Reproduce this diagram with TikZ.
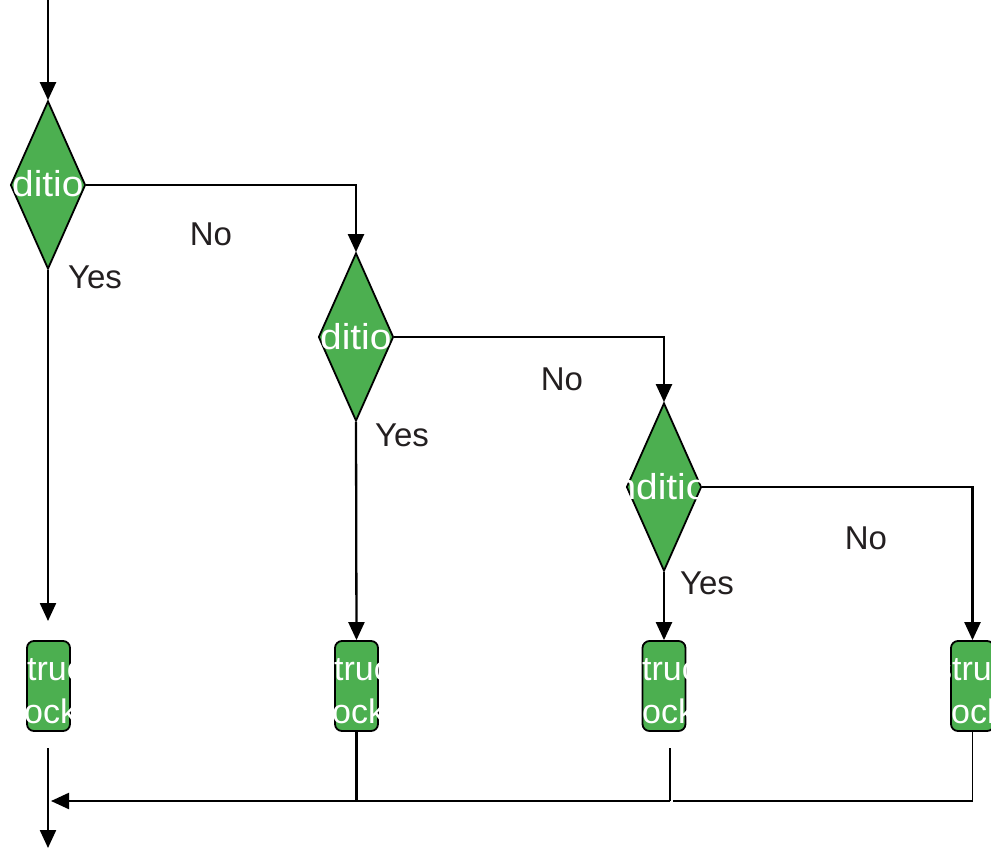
\documentclass[tikz,border=0pt]{standalone}
\usepackage{fontspec}
\usepackage{graphicx}
\setmainfont{Liberation Sans}
\usetikzlibrary{shapes.geometric,arrows.meta}
\definecolor{boxgreen}{RGB}{76,175,80}
\definecolor{labelgray}{RGB}{35,31,32}
\begin{document}
\begin{tikzpicture}[x=1pt,y=-1pt,
  flow/.style={line width=2.3pt, -{Triangle[length=18pt,width=16pt]}},
  plainline/.style={line width=2.3pt},
  thinline/.style={line width=1.5pt},
  decision/.style={diamond, draw=black, line width=1.8pt, fill=boxgreen,
    minimum width=75pt, minimum height=168pt, inner sep=0pt},
  block/.style={rectangle, rounded corners=7pt, draw=black, line width=1.8pt,
    fill=boxgreen, minimum width=43pt, minimum height=90pt, inner sep=0pt},
  lbl/.style={text=labelgray, font=\fontsize{33}{38}\selectfont, inner sep=0pt, anchor=base},
  condtext/.style={text=white, font=\fontsize{36}{42}\selectfont, inner sep=0pt, anchor=base west},
  blocktext/.style={text=white, font=\fontsize{34}{40}\selectfont, inner sep=0pt, anchor=base west},
]
\useasboundingbox (0,0) rectangle (991,849);

% decisions and instruction blocks
\node[decision] (d1) at (48,185) {};
\node[decision] (d2) at (356,337) {};
\node[decision] (d3) at (664,487) {};
\node[block] (b1) at (48.5,686) {};
\node[block] (b2) at (356.5,686) {};
\node[block] (b3) at (664,686) {};
\node[block] (b4) at (972.5,686) {};

% white captions, cut to each shape's bounding box
\foreach \d/\x/\y in {d1/12/196, d2/320/349, d3/636/499}{
  \begin{scope}
    \clip (\d.west |- \d.north) rectangle (\d.east |- \d.south);
    \node[condtext] (\d txt) at (\x,\y) {\scalebox{1.08}[1]{\llap{Con}dition}};
  \end{scope}
}
\foreach \b/\x/\xb in {b1/27/24, b2/334/332, b3/642/642, b4/952/951}{
  \begin{scope}
    \clip (\b.south west) rectangle (\b.north east);
    \node[blocktext] (\b l1) at (\x,680) {\llap{Ins}truction};
    \node[blocktext] (\b l2) at (\xb,723) {\llap{bl}ock};
  \end{scope}
}

% connectors
\coordinate (entry) at (48,0);
\coordinate (yesend) at (48,621);
\coordinate (exitA) at (48,748);
\coordinate (exitB) at (48,848);
\coordinate (joinL) at (51,801);
\coordinate (b3tail) at (670,748);
\coordinate (b3foot) at (670,801);
\coordinate (b2foot) at (356,801);
\coordinate (b4foot) at (673,801);

\draw[flow] (entry) -- (d1.north);
\draw[flow] (d1.east) -| (d2.north);
\draw[flow] (d2.east) -| (d3.north);
\draw[flow] (d3.east) -| (b4.north);
\draw[flow] (d1.south) -- (yesend);
\draw[flow] (d2.south) -- (b2.north);
\draw[flow] (d3.south) -- (b3.north);
\draw[flow] (exitA) -- (exitB);
\draw[flow] (b2.south) |- (joinL);
\draw[plainline] (b3tail) -- (b3foot);
\draw[thinline] (b3foot) -- (b2foot);
\draw[thinline] (b4.south) |- (b4foot);

% branch labels
\node[lbl] (no1) at (211,245) {No};
\node[lbl] (yes1) at (95,288) {Yes};
\node[lbl] (no2) at (562,390) {No};
\node[lbl] (yes2) at (402,446) {Yes};
\node[lbl] (no3) at (866,549) {No};
\node[lbl] (yes3) at (707,594) {Yes};
\end{tikzpicture}
\end{document}
